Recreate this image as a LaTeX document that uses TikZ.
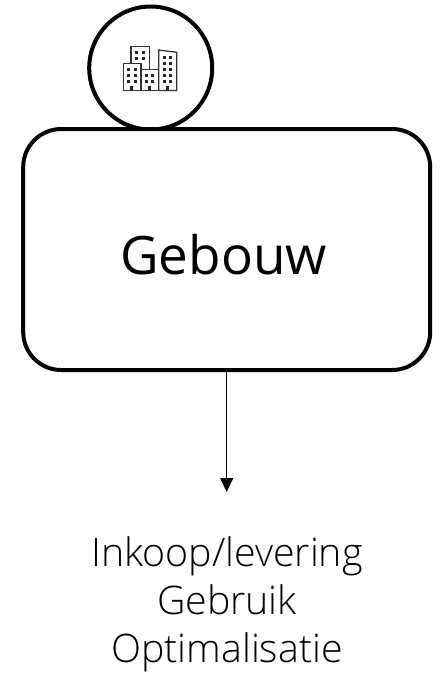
\documentclass[tikz,border=0pt]{standalone}
\usepackage{fontspec}
\setmainfont{Open Sans}
\newfontfamily\lightfont{Open Sans Light}
\usetikzlibrary{arrows.meta}
\tikzset{
  outline/.style={draw=black,line width=4pt,fill=white},
  bld/.style={draw=black!80,line width=1.3pt,fill=white},
  win/.style={fill=black!85,draw=none}
}
\begin{document}
\begin{tikzpicture}[x=1pt,y=-1pt]
\useasboundingbox (0,0) rectangle (442,673);
\node[outline,circle,minimum size=123pt,inner sep=0pt] (circ) at (150.7,68) {};
\node[outline,rectangle,rounded corners=38pt,minimum width=407pt,minimum height=241pt,inner sep=0pt] (box) at (226.7,249.5) {};
\node[font=\fontsize{53}{60}\selectfont] (title) at (223.5,255) {Gebouw};
\coordinate (end) at (226.7,492);
\draw[line width=1.2pt,-{Triangle[length=14pt,width=13pt]}] (box.south) -- (end);
\node[font=\lightfont\fontsize{39.3}{48}\selectfont,align=center,anchor=north] (list) at (227,533) {Inkoop/levering\\Gebruik\\Optimalisatie};
% building icon
\draw[bld] (131,46.7) rectangle (149.3,72);
\draw[bld] (158.7,50) -- (176.7,52.3) -- (176.7,90.5) -- (158.7,90.5) -- cycle;
\draw[bld] (123.3,63.3) rectangle (141,90.5);
\draw[bld] (141,69.3) rectangle (158.7,90.5);
\foreach \x in {136.7,143}{\foreach \y in {52,58}{\fill[win] (\x-1.5,\y-1.5) rectangle (\x+1.5,\y+1.5);}}
\foreach \x in {128.5,135}{\foreach \y in {69,75,81}{\fill[win] (\x-1.5,\y-1.5) rectangle (\x+1.5,\y+1.5);}}
\foreach \x in {146.3,152.7}{\foreach \y in {75,81}{\fill[win] (\x-1.5,\y-1.5) rectangle (\x+1.5,\y+1.5);}}
\foreach \x in {164,170}{\foreach \y in {57,63,69,75,81}{\fill[win] (\x-1.5,\y-1.5) rectangle (\x+1.5,\y+1.5);}}
\foreach \x in {131.7,149.3,167.3}{\fill[win] (\x-1.7,90.5) rectangle (\x+1.7,86);}
\end{tikzpicture}
\end{document}
